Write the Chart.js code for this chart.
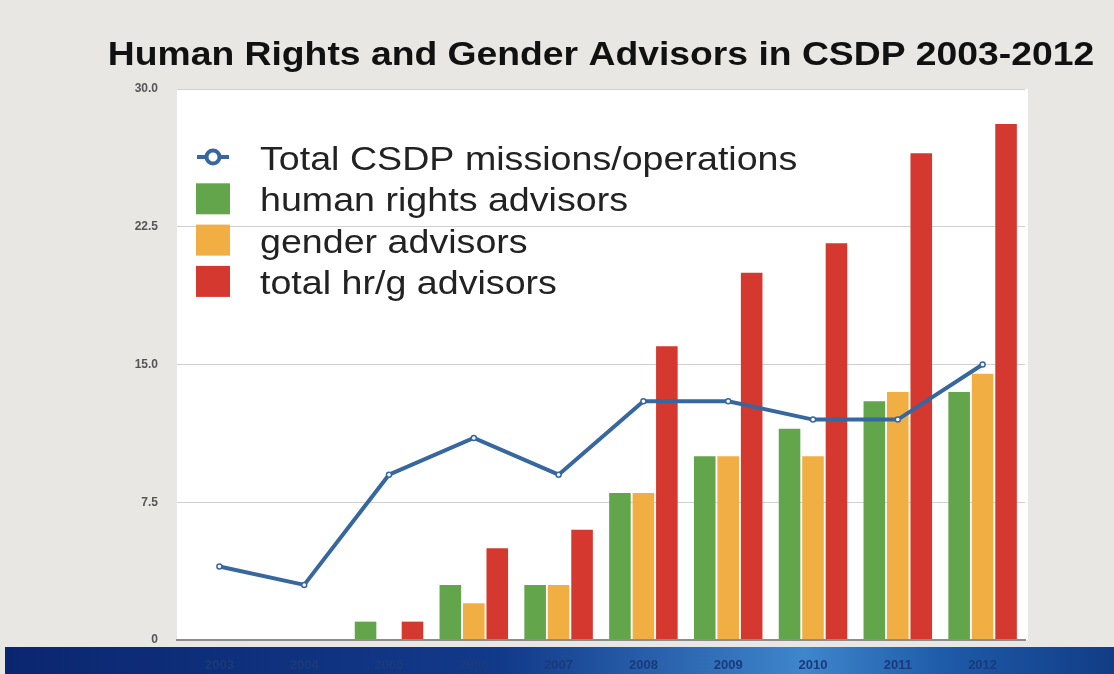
<!DOCTYPE html>
<html>
<head>
<meta charset="utf-8">
<script src="https://cdn.jsdelivr.net/npm/chart.js@4"></script>
<style>
  html, body { margin: 0; padding: 0; background: #e9e7e3; }
  #wrap { width: 1114px; height: 674px; }
</style>
</head>
<body>
<div id="wrap"><canvas id="advisors" width="1114" height="674"></canvas></div>
<script>
const years = ['2003', '2004', '2005', '2006', '2007', '2008', '2009', '2010', '2011', '2012'];
const missions = [4, 3, 9, 11, 9, 13, 13, 12, 12, 15];
const hrAdvisors = [0, 0, 1, 3, 3, 8, 10, 11.5, 13, 13.5];
const genderAdvisors = [0, 0, 0, 2, 3, 8, 10, 10, 13.5, 14.5];
const totalAdvisors = [0, 0, 1, 5, 6, 16, 20, 21.6, 26.5, 28.1];
const yTicks = [0, 7.5, 15, 22.5, 30];
const chartTitle = 'Human Rights and Gender Advisors in CSDP 2003-2012';

const blue = '#36679f';
const green = '#63a54b';
const orange = '#f1ae42';
const red = '#d4382f';
const fontFam = '"Liberation Sans", Arial, sans-serif';

// white plot panel, blue footer band and the (slightly stretched) title
const backdrop = {
  id: 'backdrop',
  beforeDraw(chart) {
    const c = chart.ctx, a = chart.chartArea;
    c.save();
    c.fillStyle = '#ffffff';
    c.fillRect(a.left, a.top, a.right - a.left + 3, a.bottom - a.top);
    const g = c.createLinearGradient(5, 0, 1114, 0);
    g.addColorStop(0, '#0b2670');
    g.addColorStop(0.45, '#123a8a');
    g.addColorStop(0.72, '#3f86cc');
    g.addColorStop(0.85, '#1d5aa8');
    g.addColorStop(1, '#123c86');
    c.fillStyle = g;
    c.fillRect(5, 647, 1109, 27);

    c.translate((a.left + a.right) / 2, 65);
    c.scale(1.13, 1);
    c.font = 'bold 33px ' + fontFam;
    c.textAlign = 'center';
    c.textBaseline = 'alphabetic';
    c.fillStyle = '#111111';
    c.fillText(chartTitle, 0, 0);
    c.restore();
  }
};

// legend drawn inside the plot area
const innerLegend = {
  id: 'innerLegend',
  afterDatasetsDraw(chart) {
    const c = chart.ctx;
    const x0 = 196, y0 = 157, step = 41.3;
    chart.data.datasets.forEach((ds, i) => {
      const y = y0 + i * step;
      c.save();
      if (ds.type === 'line') {
        c.strokeStyle = ds.borderColor;
        c.lineWidth = 4;
        c.beginPath();
        c.moveTo(x0 + 1, y); c.lineTo(x0 + 33, y);
        c.stroke();
        c.beginPath();
        c.arc(x0 + 17, y, 6.5, 0, Math.PI * 2);
        c.fillStyle = '#ffffff';
        c.fill();
        c.stroke();
      } else {
        c.fillStyle = ds.backgroundColor;
        c.fillRect(x0, y - 15, 34, 31);
      }
      c.translate(260, y + 13);
      c.scale(1.14, 1);
      c.font = '33px ' + fontFam;
      c.textBaseline = 'alphabetic';
      c.fillStyle = '#222222';
      c.fillText(ds.label, 0, 0);
      c.restore();
    });
  }
};

new Chart(document.getElementById('advisors'), {
  type: 'bar',
  data: {
    labels: years,
    datasets: [
      {
        type: 'line',
        label: 'Total CSDP missions/operations',
        data: missions,
        borderColor: blue,
        borderWidth: 4,
        pointRadius: 2.5,
        pointBorderWidth: 1.5,
        pointBackgroundColor: '#ffffff',
        pointBorderColor: blue,
        tension: 0
      },
      { label: 'human rights advisors', data: hrAdvisors, backgroundColor: green },
      { label: 'gender advisors', data: genderAdvisors, backgroundColor: orange },
      { label: 'total hr/g advisors', data: totalAdvisors, backgroundColor: red }
    ]
  },
  options: {
    responsive: false,
    animation: false,
    layout: { padding: { left: 10, right: 89, top: 89, bottom: 0 } },
    datasets: {
      bar: { categoryPercentage: 0.83, barPercentage: 0.92 }
    },
    plugins: {
      legend: { display: false },
      tooltip: { enabled: false },
      title: { display: false }
    },
    scales: {
      x: {
        grid: { display: false },
        border: { color: '#8c8c8c', width: 2 },
        ticks: {
          color: '#1a3a7c',
          padding: 10,
          font: { family: fontFam, size: 13, weight: 'bold' }
        },
        afterFit(axis) { axis.height = 34; }
      },
      y: {
        min: 0,
        max: 30,
        afterBuildTicks(axis) { axis.ticks = yTicks.map(v => ({ value: v })); },
        border: { display: false },
        grid: {
          color: ctx => ctx.tick.value === 0 ? '#8c8c8c' : '#d0d0d0',
          lineWidth: ctx => ctx.tick.value === 0 ? 2 : 1,
          drawTicks: false
        },
        ticks: {
          color: '#555555',
          padding: 19,
          font: { family: fontFam, size: 12, weight: 'bold' },
          callback: v => v === 0 ? '0' : v.toFixed(1)
        },
        afterFit(axis) { axis.width = 167; }
      }
    }
  },
  plugins: [backdrop, innerLegend]
});
</script>
</body>
</html>
